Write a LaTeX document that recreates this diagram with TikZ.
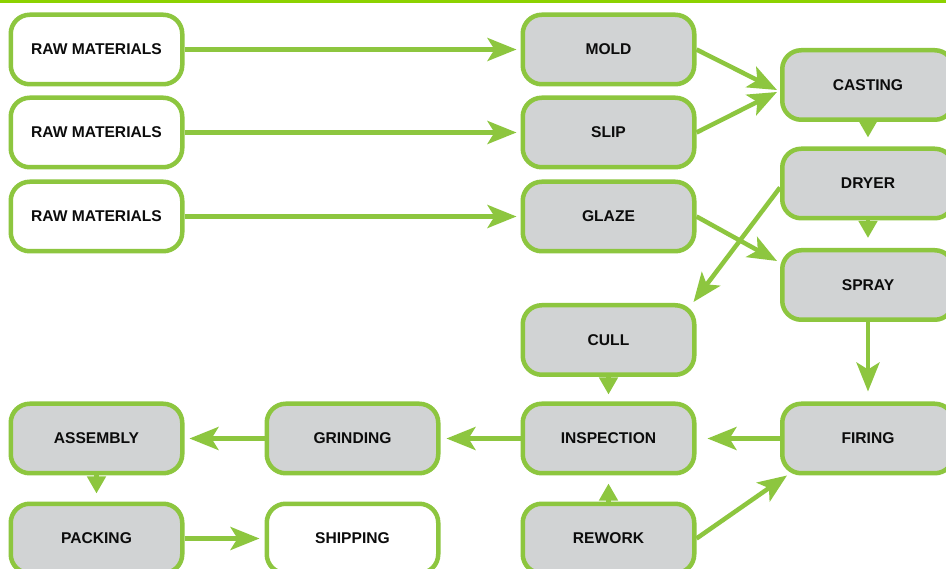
\documentclass[tikz,border=0pt]{standalone}
\usepackage{fontspec}
\setmainfont{Liberation Sans}
\usetikzlibrary{arrows.meta,calc}
\definecolor{boxgreen}{RGB}{141,198,63}
\definecolor{bargreen}{RGB}{140,210,0}
\definecolor{boxgray}{RGB}{209,211,212}
\definecolor{txt}{RGB}{12,12,12}
\tikzset{
  stepbox/.style={rectangle, rounded corners=19pt, minimum width=171.5pt, minimum height=69.5pt,
    line width=4.5pt, draw=boxgreen, fill=boxgray, text=txt, inner sep=0pt,
    font=\fontsize{15.6}{17}\selectfont\bfseries},
  endbox/.style={stepbox, fill=white},
  flow/.style={line width=4.5pt, draw=boxgreen, -{Stealth[length=29pt,width=23pt,inset=7pt]}},
  pointer/.style={line width=4.5pt, draw=boxgreen, -{Triangle[length=17pt,width=18pt]}}
}
\begin{document}
\begin{tikzpicture}[x=1pt,y=-1pt]
\useasboundingbox (0,0) rectangle (946,569);
\clip (0,0) rectangle (946,569);
\fill[white] (0,0) rectangle (946,569);
\fill[bargreen] (0,0) rectangle (946,3);

\node[endbox] (raw1) at (96.5,49.5) {RAW MATERIALS};
\node[endbox] (raw2) at (96.5,132.5) {RAW MATERIALS};
\node[endbox] (raw3) at (96.5,216.5) {RAW MATERIALS};
\node[stepbox] (mold) at (608.5,49.5) {MOLD};
\node[stepbox] (slip) at (608.5,132.5) {SLIP};
\node[stepbox] (glaze) at (608.5,216.5) {GLAZE};
\node[stepbox] (casting) at (868,85) {CASTING};
\node[stepbox] (dryer) at (868,183.5) {DRYER};
\node[stepbox] (spray) at (868,285) {SPRAY};
\node[stepbox] (cull) at (608.5,340) {CULL};
\node[stepbox] (assembly) at (96.5,438.5) {ASSEMBLY};
\node[stepbox] (grinding) at (352.5,438.5) {GRINDING};
\node[stepbox] (inspection) at (608.5,438.5) {INSPECTION};
\node[stepbox] (firing) at (868,438.5) {FIRING};
\node[stepbox] (packing) at (96.5,538.5) {PACKING};
\node[endbox] (shipping) at (352.5,538.5) {SHIPPING};
\node[stepbox] (rework) at (608.5,538.5) {REWORK};

\draw[flow, shorten >=4pt] (raw1) -- (mold);
\draw[flow, shorten >=4pt] (raw2) -- (slip);
\draw[flow, shorten >=4pt] (raw3) -- (glaze);
\draw[flow] (mold.east) -- ($(casting.west)+(-3,5)$);
\draw[flow] (slip.east) -- ($(casting.west)+(-3,7)$);
\draw[flow] (glaze.east) -- ($(spray.west)+(-3,-24)$);
\draw[flow] ($(dryer.west)+(0,4)$) -- ($(cull.north east)+(-3,-1)$);
\draw[flow, shorten >=10pt] (spray) -- (firing);
\draw[flow, shorten >=11pt] (firing) -- (inspection);
\draw[flow] (rework.east) -- ($(firing.south west)+(7,0)$);
\draw[flow, shorten >=6pt] (inspection) -- (grinding);
\draw[flow, shorten >=5pt] (grinding) -- (assembly);
\draw[flow, shorten >=5pt] (packing) -- (shipping);

\draw[pointer, shorten >=9pt] (casting) -- (dryer);
\draw[pointer, shorten >=10pt] (dryer) -- (spray);
\draw[pointer, shorten >=7pt] (cull) -- (inspection);
\draw[pointer, shorten >=8pt] (rework) -- (inspection);
\draw[pointer, shorten >=8pt] (assembly) -- (packing);
\end{tikzpicture}
\end{document}
